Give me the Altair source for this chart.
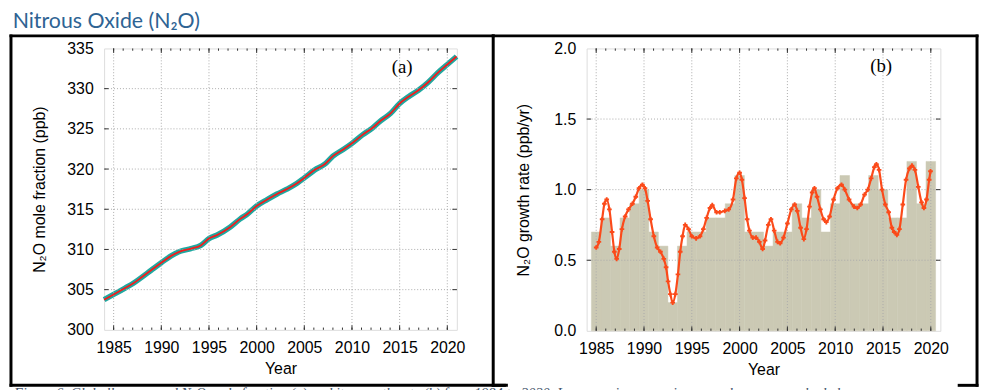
import altair as alt
import pandas as pd

# ---------------- data ----------------
# (a) globally averaged N2O mole fraction, ppb
MF_YEARS = [1984.0, 1985.0, 1986.2, 1987.07, 1987.9, 1988.97, 1990.0, 1991.03, 1992.07,
            1993.1, 1994.14, 1995.0, 1995.86, 1997.24, 1998.28, 1999.03, 2000.0, 2001.1,
            2002.14, 2003.17, 2004.2, 2005.0, 2006.1, 2007.14, 2008.0, 2009.03, 2010.0,
            2011.1, 2012.14, 2013.0, 2014.03, 2015.0, 2015.93, 2016.97, 2018.0, 2019.03,
            2020.0, 2020.97]
MF_VALUES = [303.75, 304.4, 305.2, 305.8, 306.5, 307.45, 308.35, 309.2, 309.8,
             310.1, 310.5, 311.35, 311.8, 312.8, 313.8, 314.4, 315.4, 316.2,
             316.9, 317.5, 318.2, 318.9, 319.9, 320.6, 321.6, 322.4, 323.2,
             324.25, 325.1, 326.0, 326.9, 328.15, 329.0, 329.8, 330.8, 332.0,
             333.0, 334.0]

# (b) annual increases (shaded columns), ppb/yr
BAR_YEARS = list(range(1985, 2021))
BAR_VALUES = [0.7, 0.8, 0.6, 0.8, 0.9, 1.0, 0.7, 0.6, 0.2, 0.6,
              0.7, 0.7, 0.8, 0.8, 0.9, 1.1, 0.7, 0.7, 0.6, 0.7,
              0.7, 0.9, 0.8, 1.0, 0.7, 0.9, 1.1, 0.9, 0.9, 1.1,
              1.0, 0.8, 0.8, 1.2, 0.9, 1.2]

# (b) smoothed growth rate curve, ppb/yr
GR_YEARS = [1985.00, 1985.28, 1985.62, 1985.86, 1986.10, 1986.38, 1986.66, 1986.90, 1987.14,
            1987.41, 1987.69, 1988.03, 1988.38, 1988.79, 1989.14, 1989.48, 1989.83, 1990.10,
            1990.38, 1990.69, 1991.03, 1991.38, 1991.72, 1992.07, 1992.31, 1992.52, 1992.76,
            1993.00, 1993.28, 1993.55, 1993.79, 1994.03, 1994.31, 1994.66, 1995.00, 1995.45,
            1995.86, 1996.21, 1996.55, 1996.90, 1997.14, 1997.59, 1997.93, 1998.45, 1998.86,
            1999.31, 1999.66, 2000.00, 2000.24, 2000.52, 2000.79, 2001.03, 2001.38, 2001.72,
            2002.07, 2002.41, 2002.66, 2003.00, 2003.28, 2003.62, 2003.97, 2004.24, 2004.59,
            2005.00, 2005.41, 2005.76, 2006.03, 2006.38, 2006.72, 2007.00, 2007.31, 2007.59,
            2007.83, 2008.10, 2008.45, 2008.79, 2009.07, 2009.41, 2009.83, 2010.24, 2010.66,
            2011.00, 2011.45, 2011.97, 2012.31, 2012.66, 2013.07, 2013.41, 2013.76, 2014.10,
            2014.31, 2014.59, 2014.90, 2015.24, 2015.59, 2015.93, 2016.17, 2016.45, 2016.72,
            2017.07, 2017.41, 2017.76, 2018.03, 2018.34, 2018.69, 2019.03, 2019.28, 2019.55,
            2019.83, 2019.97]
GR_VALUES = [0.59, 0.63, 0.79, 0.90, 0.93, 0.86, 0.70, 0.56, 0.51,
             0.58, 0.72, 0.81, 0.86, 0.90, 0.95, 1.01, 1.035, 1.01,
             0.92, 0.79, 0.67, 0.59, 0.56, 0.51, 0.45, 0.35, 0.26,
             0.20, 0.26, 0.40, 0.56, 0.67, 0.75, 0.72, 0.67, 0.655,
             0.67, 0.72, 0.80, 0.87, 0.89, 0.84, 0.84, 0.85, 0.86,
             0.93, 1.08, 1.12, 1.07, 0.94, 0.79, 0.71, 0.66, 0.66,
             0.63, 0.58, 0.64, 0.75, 0.79, 0.71, 0.63, 0.62, 0.66,
             0.76, 0.86, 0.895, 0.85, 0.73, 0.65, 0.72, 0.88, 0.98,
             1.01, 0.95, 0.86, 0.79, 0.77, 0.81, 0.93, 1.01, 1.035,
             1.00, 0.93, 0.88, 0.87, 0.895, 0.965, 1.00, 1.08, 1.16,
             1.18, 1.14, 1.00, 0.895, 0.84, 0.73, 0.70, 0.68, 0.72,
             0.895, 1.07, 1.15, 1.17, 1.14, 1.02, 0.91, 0.87, 0.93,
             1.07, 1.13]

X_DOMAIN = [1984, 2021]
X_MAJOR = [1985, 1990, 1995, 2000, 2005, 2010, 2015, 2020]
X_MINOR = list(range(1985, 2021))
Y_A_DOMAIN = [300, 335]
Y_A_TICKS = [300, 305, 310, 315, 320, 325, 330, 335]
Y_B_DOMAIN = [0, 2]
Y_B_TICKS = [0.0, 0.5, 1.0, 1.5, 2.0]

TITLE = "Nitrous Oxide (N₂O)"
CAPTION = ("Figure 6. Globally averaged N₂O mole fraction (a) and its growth rate (b) "
           "from 1984 to 2020. Increases in successive annual means are shaded")

# ---------------- style ----------------
FONT = "Liberation Sans"
FS = 16
TEAL = "#1fa8a0"
RED = "#f41c1c"
ORANGE = "#fb4a1a"
BARC = "#cbc9b4"
GRID = "#ababab"
FRAME = "#333333"

W_A, H_A = 356, 284
W_B, H_B = 357, 285

xs = alt.Scale(domain=X_DOMAIN, nice=False, zero=False)
ys_a = alt.Scale(domain=Y_A_DOMAIN, nice=False, zero=False)
ys_b = alt.Scale(domain=Y_B_DOMAIN, nice=False, zero=False)

deco = pd.DataFrame({"k": [0]})

AX_X = alt.Axis(values=X_MAJOR, format="d", ticks=False, domain=False, grid=False,
                labelFont=FONT, labelFontSize=FS, labelColor="black", labelPadding=10,
                labelFlush=False, labelOverlap=False, title="Year", titleFont=FONT,
                titleFontSize=FS, titleFontWeight="normal", titleColor="black",
                titleY=39, titleBaseline="middle")


def y_axis(values, fmt, title, h, tx):
    return alt.Axis(values=values, format=fmt, ticks=False, domain=False, grid=False,
                    labelFont=FONT, labelFontSize=FS, labelColor="black", labelPadding=11,
                    labelOverlap=False, title=title, titleFont=FONT, titleFontSize=FS,
                    titleFontWeight="normal", titleColor="black", titleX=tx, titleY=h / 2,
                    titleAlign="center", titleBaseline="middle", titleAngle=270)


AY_A = y_axis(Y_A_TICKS, "d", "N₂O mole fraction (ppb)", H_A, -65)
AY_B = y_axis(Y_B_TICKS, ".1f", "N₂O growth rate (ppb/yr)", H_B, -64)


def grid_layers(yscale, yaxis, yvals):
    gx = pd.DataFrame({"g": X_MAJOR})
    gy = pd.DataFrame({"g": yvals[1:-1]})
    return [
        alt.Chart(gx).mark_rule(color=GRID, strokeWidth=1, strokeDash=[1, 2]).encode(
            x=alt.X("g:Q", scale=xs, axis=AX_X)),
        alt.Chart(gy).mark_rule(color=GRID, strokeWidth=1, strokeDash=[1, 2]).encode(
            y=alt.Y("g:Q", scale=yscale, axis=yaxis)),
    ]


def tick_layers(yscale, yaxis, yvals, w, h):
    layers = []
    for vals, ln in ((X_MINOR, 2.3), (X_MAJOR, 4.5)):
        df = pd.DataFrame({"t": vals})
        xe = alt.X("t:Q", scale=xs, axis=AX_X)
        layers.append(alt.Chart(df).mark_rule(color=FRAME, strokeWidth=1).encode(
            x=xe, y=alt.value(h), y2=alt.value(h - ln)))
        layers.append(alt.Chart(df).mark_rule(color=FRAME, strokeWidth=1).encode(
            x=xe, y=alt.value(0), y2=alt.value(ln)))
    df = pd.DataFrame({"t": yvals[1:-1]})
    ye = alt.Y("t:Q", scale=yscale, axis=yaxis)
    layers.append(alt.Chart(df).mark_rule(color=FRAME, strokeWidth=1).encode(
        y=ye, x=alt.value(0), x2=alt.value(4.5)))
    layers.append(alt.Chart(df).mark_rule(color=FRAME, strokeWidth=1).encode(
        y=ye, x=alt.value(w - 4.5), x2=alt.value(w)))
    return layers


def vline(x, y1, y2):
    return alt.Chart(deco).mark_rule(color="black", strokeWidth=3, strokeCap="square").encode(
        x=alt.value(x), y=alt.value(y1), y2=alt.value(y2))


def hline(y, x1, x2):
    return alt.Chart(deco).mark_rule(color="black", strokeWidth=3, strokeCap="square").encode(
        y=alt.value(y), x=alt.value(x1), x2=alt.value(x2))


def panel_label(text, xv, yv, yscale, yaxis):
    return alt.Chart(deco).mark_text(text=text, font="Liberation Serif", fontSize=19,
                                     color="black", align="center", baseline="middle").encode(
        x=alt.X(datum=xv, scale=xs, axis=AX_X), y=alt.Y(datum=yv, scale=yscale, axis=yaxis))


# ---------------- panel (a) ----------------
mf = pd.DataFrame({"year": MF_YEARS, "ppb": MF_VALUES})
teal = alt.Chart(mf).mark_line(color=TEAL, strokeWidth=5.5, interpolate="monotone").encode(
    x=alt.X("year:Q", scale=xs, axis=AX_X),
    y=alt.Y("ppb:Q", scale=ys_a, axis=AY_A))
red = alt.Chart(mf).mark_line(color=RED, strokeWidth=1.8, interpolate="monotone").encode(
    x=alt.X("year:Q", scale=xs, axis=AX_X),
    y=alt.Y("ppb:Q", scale=ys_a, axis=AY_A))
label_a = panel_label("(a)", 2015.26, 332.66, ys_a, AY_A)
title_txt = alt.Chart(deco).mark_text(text=TITLE, font="Lato", fontSize=21.5, color="#2e6393",
                                      align="left", baseline="alphabetic").encode(
    x=alt.value(-92.3), y=alt.value(-21))
caption_txt = alt.Chart(deco).mark_text(text=CAPTION, font="Liberation Serif", fontStyle="italic",
                                        fontSize=14.5, color="#44546a", align="left",
                                        baseline="alphabetic").encode(
    x=alt.value(-91), y=alt.value(353))

box_a = [vline(-94, -12.7, 340), hline(-12.7, -94, 392.7), vline(392.7, -12.7, 340),
         hline(340, -94, 406)]

panel_a = alt.layer(teal, *grid_layers(ys_a, AY_A, Y_A_TICKS), red,
                    *tick_layers(ys_a, AY_A, Y_A_TICKS, W_A, H_A), label_a,
                    title_txt, caption_txt, *box_a).properties(width=W_A, height=H_A)

# ---------------- panel (b) ----------------
bars = pd.DataFrame({"year": BAR_YEARS, "rate": BAR_VALUES})
bar_layer = alt.Chart(bars).transform_calculate(
    x0="datum.year - 0.5", x1="datum.year + 0.5", base="0"
).mark_rect(color=BARC, stroke=BARC, strokeWidth=0.5).encode(
    x=alt.X("x0:Q", scale=xs, axis=AX_X),
    x2="x1:Q",
    y=alt.Y("rate:Q", scale=ys_b, axis=AY_B),
    y2="base:Q")

gr = pd.DataFrame({"year": GR_YEARS, "rate": GR_VALUES})
curve = alt.Chart(gr).mark_line(color=ORANGE, strokeWidth=2.2, interpolate="monotone").encode(
    x=alt.X("year:Q", scale=xs, axis=AX_X),
    y=alt.Y("rate:Q", scale=ys_b, axis=AY_B))
pts = alt.Chart(gr).mark_point(shape="cross", size=22, filled=True, color=ORANGE,
                               opacity=1).encode(
    x=alt.X("year:Q", scale=xs, axis=AX_X),
    y=alt.Y("rate:Q", scale=ys_b, axis=AY_B))
label_b = panel_label("(b)", 2014.8, 1.876, ys_b, AY_B)

box_b = [hline(-12.7, -94.3, 394), vline(394, -12.7, 340), hline(340, -94.3, -83),
         hline(340, 376, 394)]

panel_b = alt.layer(bar_layer, *grid_layers(ys_b, AY_B, Y_B_TICKS), curve, pts,
                    *tick_layers(ys_b, AY_B, Y_B_TICKS, W_B, H_B), label_b,
                    *box_b).properties(width=W_B, height=H_B)

chart = alt.hconcat(panel_a, panel_b, spacing=131, bounds="flush", padding=0).configure_view(
    stroke=FRAME, strokeWidth=1.2).configure(background="white")

chart.save("out.html", embed_options={"renderer": "svg", "actions": False})
